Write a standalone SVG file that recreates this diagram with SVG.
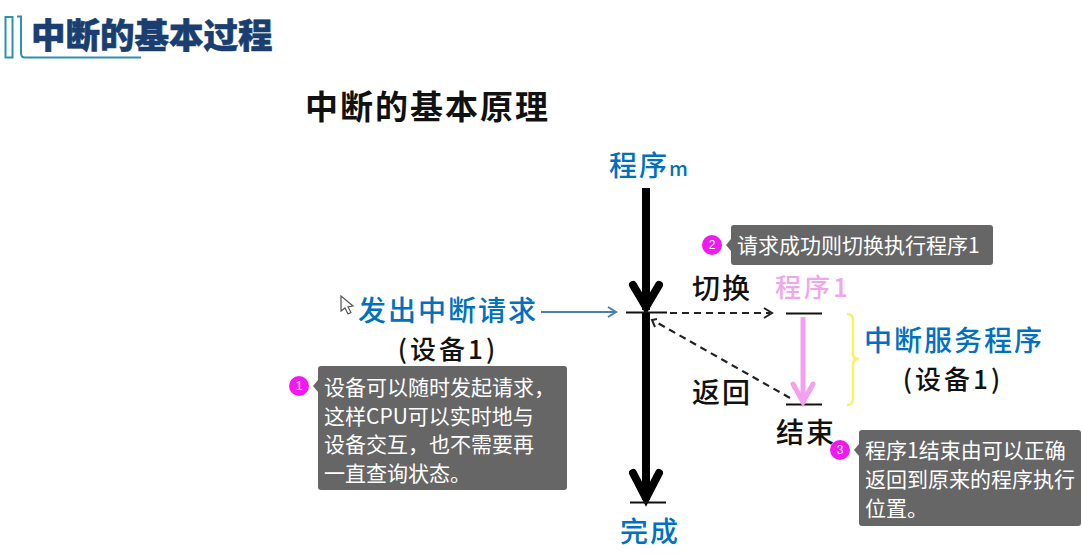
<svg xmlns="http://www.w3.org/2000/svg" width="1082" height="555" viewBox="0 0 1082 555">
<style>
text{font-family:"Noto Sans CJK SC","Liberation Sans",sans-serif}
.blue{fill:#0070c0;font-weight:500;font-size:28px;letter-spacing:2px}
.blk{fill:#111;font-weight:500;font-size:28px;letter-spacing:2px}
.sub{fill:#111;font-weight:500;font-size:26px;letter-spacing:3px;text-anchor:middle}
.tip{fill:#666}
.tt{fill:#fff;font-size:21px}
.num{fill:#fff;font-size:12px;text-anchor:middle;font-family:"Liberation Sans",sans-serif}
.dot{fill:#f01af0}
.dash{fill:none;stroke:#222;stroke-width:2.200;stroke-dasharray:7 5}
.head{fill:none;stroke:#222;stroke-width:2}
</style>
<rect width="1082" height="555" fill="#fff"/>
<g id="header">
<path d="M5.500 17V57.500H12.500V17ZM17 16.500H21V53Q21 57.500 25 57.500H141" fill="none" stroke="#2f8fb0" stroke-width="2"/>
<text x="31" y="48" font-size="34.500" font-weight="900" fill="#1a3e70" stroke="#1a3e70" stroke-width=".6">中断的基本过程</text>
</g>
<text x="305" y="119" font-size="33" font-weight="700" fill="#111" letter-spacing="2">中断的基本原理</text>
<g id="connectors">
<path d="M646 188V310" stroke="#000" stroke-width="8" fill="none"/>
<path d="M633 285L646 307L659 285" stroke="#000" stroke-width="8" stroke-linecap="round" fill="none"/>
<path d="M646 312V500" stroke="#000" stroke-width="8" fill="none"/>
<path d="M633 473L646 498L659 473" stroke="#000" stroke-width="8" stroke-linecap="round" fill="none"/>
<path d="M626 312.500H667M786 313.500H822M786 404.500H822M630 502.500H666" stroke="#111" stroke-width="2" fill="none"/>
<path d="M541 312H615" stroke="#4a7fb0" stroke-width="2" fill="none"/>
<path d="M608 307L616 312L608 317" stroke="#4a7fb0" stroke-width="2" fill="none"/>
<path class="dash" d="M670 313H770"/>
<path class="head" d="M764 308L772 313L764 318"/>
<path class="dash" d="M790 398L656 322"/>
<path class="head" d="M657 319L652 320L655 327"/>
<path d="M803 317V400" stroke="#f4a0f0" stroke-width="5" fill="none"/>
<path d="M793 384L803 402L813 384" stroke="#f4a0f0" stroke-width="5" stroke-linecap="round" fill="none"/>
<path d="M847 314Q853 314 853 320V354Q853 359 859 359Q853 359 853 364V399Q853 405 847 405" stroke="#ffee66" stroke-width="2.500" fill="none"/>
</g>
<g id="node-program-m"><text x="609" y="176" class="blue">程序<tspan font-size="20">m</tspan></text></g>
<g id="node-request">
<text x="358" y="320.500" class="blue">发出中断请求</text>
<text x="448" y="359" class="sub">(设备1)</text>
</g>
<g id="node-cursor"><path d="M341 296V311L345 308L348 314L351 312.500L348 307L353 306Z" fill="#fff" stroke="#555" stroke-width="1.200"/></g>
<g id="node-switch"><text x="692" y="299" class="blk">切换</text></g>
<g id="node-program-1"><text x="775" y="297" font-size="26" fill="#f0a6ec" font-weight="500" letter-spacing="3">程序1</text></g>
<g id="node-return"><text x="692" y="403" class="blk">返回</text></g>
<g id="node-end"><text x="776" y="443" class="blk">结束</text></g>
<g id="node-done"><text x="620" y="542" class="blue">完成</text></g>
<g id="node-service">
<text x="864" y="350.500" class="blue">中断服务程序</text>
<text x="953" y="389" class="sub">(设备1)</text>
</g>
<g id="tip-1">
<circle class="dot" cx="299" cy="386" r="10"/><text class="num" x="299" y="390">1</text>
<path class="tip" d="M318 380L313 386L318 392Z"/>
<rect class="tip" x="318" y="366" width="249" height="124" rx="3"/>
<text class="tt" x="324" y="395">设备可以随时发起请求，</text>
<text class="tt" x="324" y="424">这样CPU可以实时地与</text>
<text class="tt" x="324" y="452">设备交互，也不需要再</text>
<text class="tt" x="324" y="481">一直查询状态。</text>
</g>
<g id="tip-2">
<circle class="dot" cx="712" cy="245" r="10"/><text class="num" x="712" y="249">2</text>
<path class="tip" d="M731 239L726 245L731 251Z"/>
<rect class="tip" x="731" y="225" width="262" height="40" rx="3"/>
<text class="tt" x="737" y="253">请求成功则切换执行程序1</text>
</g>
<g id="tip-3">
<circle class="dot" cx="840" cy="450" r="10"/><text class="num" x="840" y="454">3</text>
<path class="tip" d="M859 444L854 450L859 456Z"/>
<rect class="tip" x="859" y="430" width="222" height="96" rx="3"/>
<text class="tt" x="865" y="458">程序1结束由可以正确</text>
<text class="tt" x="865" y="487">返回到原来的程序执行</text>
<text class="tt" x="865" y="516">位置。</text>
</g>
</svg>
